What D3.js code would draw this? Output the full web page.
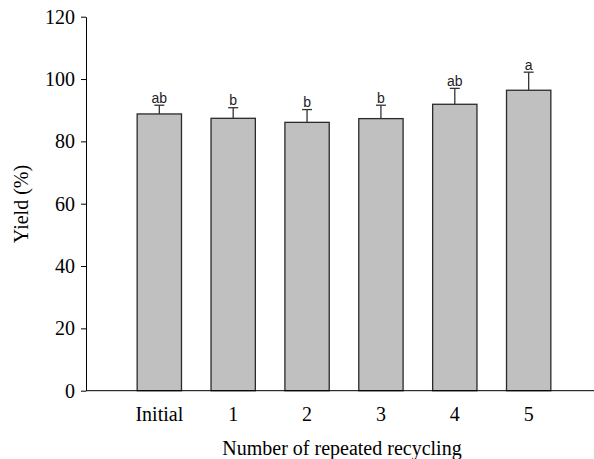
<!DOCTYPE html>
<html>
<head>
<meta charset="utf-8">
<script src="https://cdn.jsdelivr.net/npm/d3@7"></script>
<style>
  body { margin: 0; background: #fff; }
  .axis path, .axis line { stroke: #000; }
</style>
</head>
<body>
<div class="chart-container"></div>
<script>
// data
const categories = ['Initial', '1', '2', '3', '4', '5'];
const yieldMean = [88.8, 87.4, 86.1, 87.3, 91.9, 96.4];
const yieldErr = [2.8, 3.4, 4.1, 4.3, 5.1, 5.8];
const groupLetters = ['ab', 'b', 'b', 'b', 'ab', 'a'];
const yTicks = [0, 20, 40, 60, 80, 100, 120];

const svg_width = 594;
const svg_height = 459;

const svg = d3.select('.chart-container').append('svg')
  .attr('width', svg_width).attr('height', svg_height);

const data = categories.map((c, i) => ({
  cat: c, mean: yieldMean[i], err: yieldErr[i], letter: groupLetters[i]
}));

//scales
const xScale = d3.scaleBand().domain(categories).range([115, 573])
  .paddingInner(0.4).paddingOuter(0.3);
const yScale = d3.scaleLinear().domain([0, 120]).range([390.7, 16.7]);

//bars
svg.append('g').selectAll('.bar').data(data).enter()
  .append('rect')
  .attr('class', 'bar')
  .attr('x', d => xScale(d.cat))
  .attr('y', d => yScale(d.mean))
  .attr('width', xScale.bandwidth())
  .attr('height', d => yScale(0) - yScale(d.mean))
  .style('fill', '#c0c0c0')
  .style('stroke', '#2a2a2a')
  .style('stroke-width', 1.3);

//error bars (upper only)
const errs = svg.append('g').selectAll('.err').data(data).enter()
  .append('g').attr('class', 'err')
  .attr('transform', d => `translate(${xScale(d.cat) + xScale.bandwidth() / 2},0)`);
errs.append('line')
  .attr('x1', 0).attr('x2', 0)
  .attr('y1', d => yScale(d.mean))
  .attr('y2', d => yScale(d.mean + d.err))
  .style('stroke', '#333').style('stroke-width', 1.3);
errs.append('line')
  .attr('x1', -5).attr('x2', 5)
  .attr('y1', d => yScale(d.mean + d.err))
  .attr('y2', d => yScale(d.mean + d.err))
  .style('stroke', '#333').style('stroke-width', 1.3);
errs.append('text')
  .attr('x', 0)
  .attr('y', d => yScale(d.mean + d.err) - 2.5)
  .attr('text-anchor', 'middle')
  .style('font-family', '"Liberation Sans", Arial, sans-serif')
  .style('font-size', '14px')
  .style('fill', '#222')
  .text(d => d.letter);

//y axis
const yAxis = d3.axisLeft(yScale).tickValues(yTicks)
  .tickSizeInner(5).tickSizeOuter(0).tickPadding(6);
const yAxisDraw = svg.append('g').attr('class', 'y axis')
  .attr('transform', 'translate(86,0)')
  .call(yAxis);
yAxisDraw.selectAll('text')
  .style('font-family', '"Liberation Serif", "Times New Roman", serif')
  .style('font-size', '20px')
  .style('fill', '#000');

//x axis: plain line running to the edge, labels without ticks
const xAxis = d3.axisBottom(xScale).tickSize(0).tickPadding(16);
const xAxisDraw = svg.append('g').attr('class', 'x axis')
  .attr('transform', `translate(0,${yScale(0)})`)
  .call(xAxis);
xAxisDraw.select('.domain').attr('d', `M86,0H594`);
xAxisDraw.selectAll('text')
  .style('font-family', '"Liberation Serif", "Times New Roman", serif')
  .style('font-size', '20px')
  .style('fill', '#000');

//axis titles
svg.append('text')
  .attr('transform', 'translate(28,204) rotate(-90)')
  .attr('text-anchor', 'middle')
  .style('font-family', '"Liberation Serif", "Times New Roman", serif')
  .style('font-size', '20px')
  .text('Yield (%)');

svg.append('text')
  .attr('x', 342).attr('y', 455)
  .attr('text-anchor', 'middle')
  .style('font-family', '"Liberation Serif", "Times New Roman", serif')
  .style('font-size', '20px')
  .text('Number of repeated recycling');
</script>
</body>
</html>
